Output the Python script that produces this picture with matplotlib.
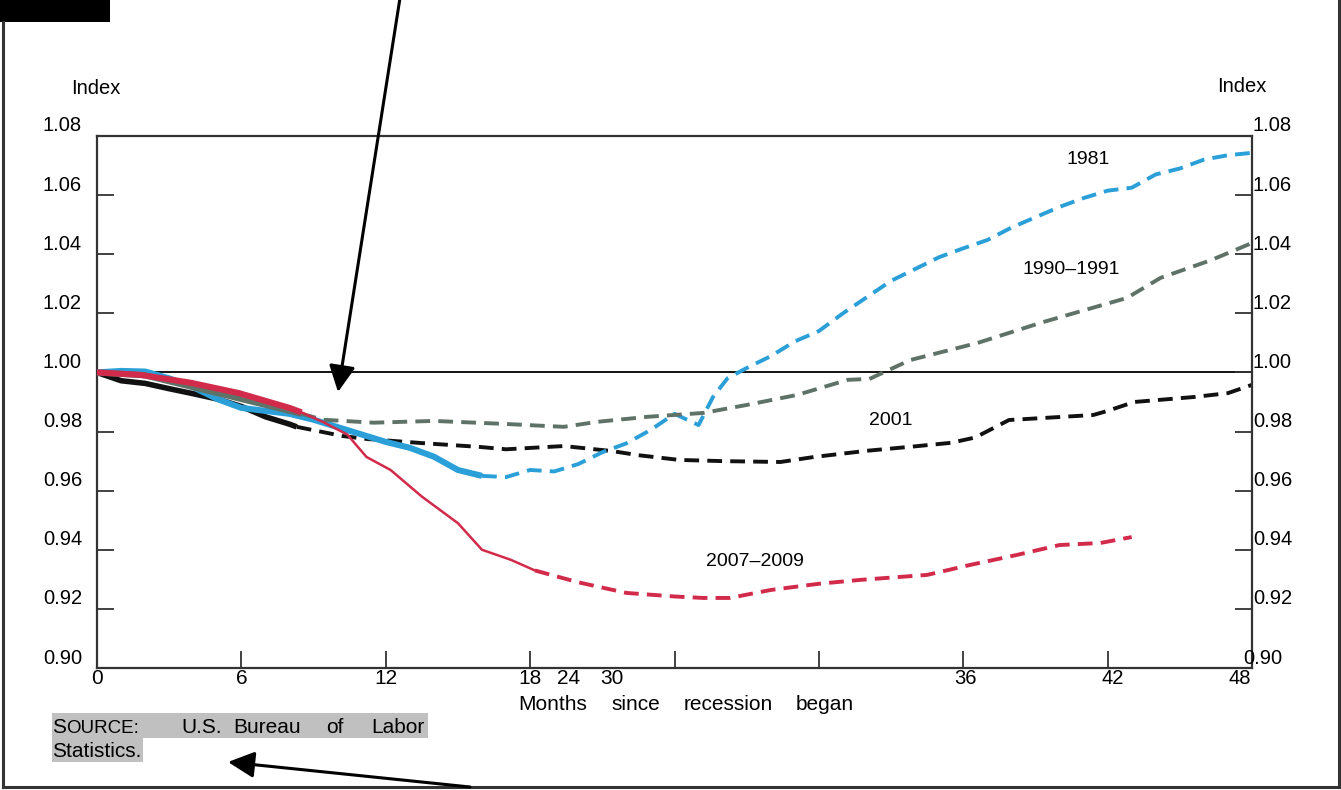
import matplotlib.pyplot as plt
from matplotlib.patches import Rectangle

plt.rcParams['font.family'] = ['Liberation Sans', 'DejaVu Sans']
NARROW = ['Liberation Sans Narrow', 'DejaVu Sans Condensed', 'Liberation Sans']

# 1981 recession (blue): solid during recession, dashed after
m81_solid = [0, 1, 2, 3, 4, 5, 6, 7, 8, 9, 10, 11, 12, 13, 14, 15, 16]
v81_solid = [1.000, 1.0005, 1.0003, 0.998, 0.995, 0.991, 0.988, 0.987, 0.986, 0.984,
             0.9815, 0.979, 0.9765, 0.9745, 0.9715, 0.967, 0.965]
m81_dash = [16, 17, 18, 19, 20, 21, 22, 23, 24, 25, 25.6, 26.2, 27, 28, 29, 30, 31, 32,
            33, 34, 35, 36, 37, 38, 39, 40, 41, 42, 43, 44, 45, 46, 47, 48]
v81_dash = [0.965, 0.9646, 0.967, 0.9665, 0.969, 0.973, 0.976, 0.9805, 0.986, 0.9822,
            0.9917, 0.998, 1.0015, 1.0055, 1.0105, 1.014, 1.020, 1.0255, 1.031, 1.035,
            1.039, 1.042, 1.0448, 1.049, 1.0525, 1.056, 1.059, 1.0615, 1.0625, 1.067,
            1.069, 1.072, 1.0735, 1.0743]

# 1990-1991 recession (grey)
m90_solid = [0, 1, 2, 3, 4, 5, 6, 7, 8, 8.5]
v90_solid = [1.000, 0.9995, 0.999, 0.997, 0.995, 0.993, 0.991, 0.989, 0.987, 0.986]
m90_dash = [8.5, 9.4, 11.5, 14, 16.9, 19.4, 20.8, 22.9, 25.2, 27, 29.1, 31.2, 32.1,
            33.8, 36.6, 39.3, 42.8, 44.2, 46.3, 48]
v90_dash = [0.986, 0.984, 0.983, 0.9836, 0.9826, 0.9816, 0.9833, 0.985, 0.9863, 0.989,
            0.9924, 0.9975, 0.9978, 1.0042, 1.010, 1.017, 1.0252, 1.032, 1.038, 1.0438]

# 2001 recession (black)
m01_solid = [0, 1, 2, 3, 4, 5, 6, 7, 8, 8.3]
v01_solid = [1.000, 0.9972, 0.9963, 0.9945, 0.9928, 0.991, 0.9885, 0.985, 0.9825, 0.9816]
m01_dash = [8.3, 10.2, 11.2, 13.5, 15.9, 17, 19.4, 21.4, 22.5, 24.2, 26, 28.4, 29.8, 32,
            34, 35.5, 36.5, 37.9, 41.4, 42, 43.1, 45.6, 47, 48]
v01_dash = [0.9816, 0.9785, 0.9775, 0.9761, 0.9748, 0.974, 0.9751, 0.9734, 0.972, 0.9704,
            0.970, 0.9697, 0.9714, 0.9735, 0.975, 0.9762, 0.978, 0.9839, 0.9856, 0.987,
            0.990, 0.9917, 0.993, 0.9958]

# 2007-2009 recession (red)
m07_thick = [0, 1.8, 3.9, 5.9, 8.0, 8.5]
v07_thick = [1.000, 0.9992, 0.9965, 0.993, 0.988, 0.9865]
m07_thin = [8.5, 9.4, 10.4, 11.2, 12.2, 13.5, 15, 16, 17.2, 18.2]
v07_thin = [0.9865, 0.9832, 0.979, 0.9714, 0.967, 0.958, 0.949, 0.940, 0.9366, 0.933]
m07_dash = [18.2, 20, 22, 24, 25.2, 26.3, 28, 30, 31.7, 34.5, 36.3, 38.2, 40, 41.7, 43.0]
v07_dash = [0.933, 0.929, 0.9254, 0.9242, 0.9237, 0.9237, 0.9264, 0.9285, 0.9298, 0.9315,
            0.9349, 0.9382, 0.9416, 0.9423, 0.9443]

y_ticks = [0.92, 0.94, 0.96, 0.98, 1.00, 1.02, 1.04, 1.06]
y_labels = [0.90, 0.92, 0.94, 0.96, 0.98, 1.00, 1.02, 1.04, 1.06, 1.08]
x_ticks = [6, 12, 18, 24, 30, 36, 42]

C81, C90, C01, C07 = '#2a9fd8', '#5f7267', '#111111', '#d22a4a'
DASH = (3.8, 2.1)

W, H = 1341, 790
fig = plt.figure(figsize=(W / 100, H / 100), dpi=100)
ax = fig.add_axes([97 / W, 1 - 668 / H, (1252 - 97) / W, (668 - 136) / H])
ax.set_xlim(0, 48)
ax.set_ylim(0.90, 1.08)

ax.axhline(1.0, color='k', lw=1.3, zorder=1)

ax.plot(m01_solid, v01_solid, color=C01, lw=4.0, solid_capstyle='butt', zorder=2)
ax.plot(m01_dash, v01_dash, color=C01, lw=2.8, dashes=DASH, zorder=2)
ax.plot(m81_solid, v81_solid, color=C81, lw=4.4, solid_capstyle='butt', zorder=3)
ax.plot(m81_dash, v81_dash, color=C81, lw=2.8, dashes=DASH, zorder=3)
ax.plot(m90_solid, v90_solid, color=C90, lw=4.4, solid_capstyle='butt', zorder=4)
ax.plot(m90_dash, v90_dash, color=C90, lw=2.8, dashes=DASH, zorder=4)
ax.plot(m07_thick, v07_thick, color=C07, lw=4.4, solid_capstyle='butt', zorder=5)
ax.plot(m07_thin, v07_thin, color=C07, lw=1.8, zorder=5)
ax.plot(m07_dash, v07_dash, color=C07, lw=2.8, dashes=DASH, zorder=5)

ax.text(41.2, 1.0719, '1981', fontsize=14, ha='center', va='center')
ax.text(40.5, 1.0347, '1990\u20131991', fontsize=14, ha='center', va='center')
ax.text(33.0, 0.9839, '2001', fontsize=14, ha='center', va='center')
ax.text(27.35, 0.9359, '2007\u20132009', fontsize=14, ha='center', va='center')

for s in ax.spines.values():
    s.set_linewidth(1.6)
    s.set_color('#333333')
ax.set_xticks(x_ticks)
ax.set_yticks(y_ticks)
ax.tick_params(direction='in', length=12, width=1.3, color='#333333',
               left=True, right=True, labelleft=False, labelbottom=False)

for v in y_labels:
    ax.annotate(f'{v:.2f}', xy=(0, v), xycoords=('axes fraction', 'data'),
                xytext=(-15, 10), textcoords='offset pixels',
                ha='right', va='center', fontsize=14.5)
    ax.annotate(f'{v:.2f}', xy=(1, v), xycoords=('axes fraction', 'data'),
                xytext=(-9 if v == 0.90 else 1, 10), textcoords='offset pixels',
                ha='left', va='center', fontsize=14.5)

# x labels, the 18/24/30 group sits bunched up as in the original
narrow_lbls = [('0', 0), ('6', 6), ('12', 12), ('18', 18), ('24', 19.6), ('30', 21.4)]
wide_lbls = [('36', 36.1), ('42', 42.2), ('48', 47.5)]
for lbl, pos in narrow_lbls:
    ax.annotate(lbl, xy=(pos, 0.90), xytext=(0, -11), textcoords='offset pixels',
                ha='center', va='center', fontsize=15, family=NARROW)
for lbl, pos in wide_lbls:
    ax.annotate(lbl, xy=(pos, 0.90), xytext=(0, -11), textcoords='offset pixels',
                ha='center', va='center', fontsize=14.5)

# overlay in pixel coords for frame, arrows and notes
ov = fig.add_axes([0, 0, 1, 1], zorder=5)
ov.set_xlim(0, W)
ov.set_ylim(H, 0)
ov.axis('off')
ov.patch.set_alpha(0)

ov.add_patch(Rectangle((0, 0), 110, 22, color='k', lw=0))
ov.plot([3, 3], [22, 787], color='#333333', lw=2.2)
ov.plot([3, 1339], [787, 787], color='#333333', lw=2.2)
ov.plot([1339, 1339], [0, 787], color='#333333', lw=2.2)

ov.text(96, 88, 'Index', fontsize=14.5, ha='center', va='center')
ov.text(1242, 87, 'Index', fontsize=14.5, ha='center', va='center')

for word, cx in [('Months', 553), ('since', 636), ('recession', 728), ('began', 825)]:
    ov.text(cx, 704, word, fontsize=15, ha='center', va='center', family=NARROW)

ov.add_patch(Rectangle((52, 713), 376, 25, color='#c0c0c0', lw=0))
ov.add_patch(Rectangle((52, 738), 91, 24, color='#c0c0c0', lw=0))
t1 = ov.text(52, 733, 'S', fontsize=15, ha='left', va='baseline')
ov.annotate('OURCE:', xy=(1, 0), xycoords=t1, xytext=(0, 0), textcoords='offset pixels',
            ha='left', va='bottom', fontsize=13.5)
for word, cx in [('U.S.', 202), ('Bureau', 267), ('of', 335), ('Labor', 398)]:
    ov.text(cx, 733, word, fontsize=15, ha='center', va='baseline')
ov.text(52, 757, 'Statistics.', fontsize=15, ha='left', va='baseline')

arrow = dict(arrowstyle='-|>,head_length=0.8,head_width=0.4', lw=2.2, color='k',
             shrinkA=0, shrinkB=0, mutation_scale=20)
ov.annotate('', xy=(338, 392), xytext=(400, -2), arrowprops=arrow)
ov.annotate('', xy=(228, 762), xytext=(470, 787), arrowprops=arrow)

fig.savefig('out.png', dpi=100)
